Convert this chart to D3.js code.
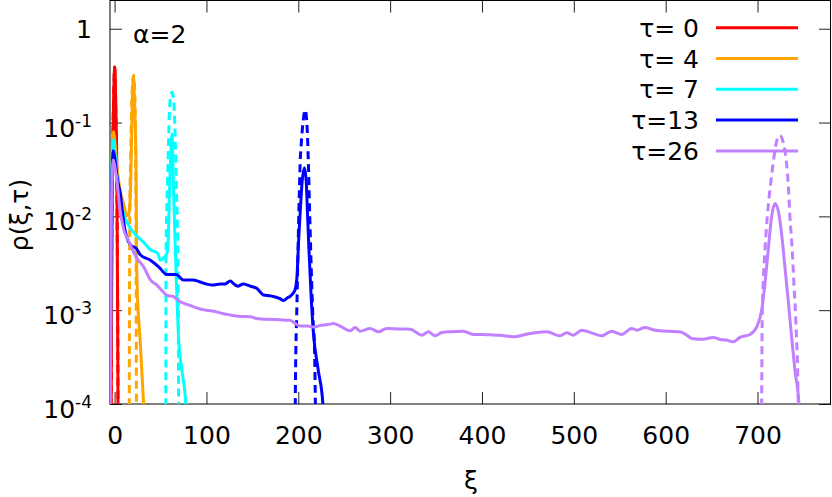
<!DOCTYPE html>
<html><head><meta charset="utf-8">
<script src="https://cdn.jsdelivr.net/npm/d3@7"></script>
<style>body{margin:0;background:#fff} svg{display:block} text{font-family:"DejaVu Sans",sans-serif;fill:#000}</style>
</head><body><svg id="c" width="832" height="497"></svg>
<script>
// ---- data (xi, rho) ----
const tauLabels = ["τ= 0", "τ= 4", "τ= 7", "τ=13", "τ=26"];
const xTicks = [0, 100, 200, 300, 400, 500, 600, 700];
const yTicks = [1e-4, 1e-3, 1e-2, 1e-1, 1];
const yTickExp = [-4, -3, -2, -1, 0];

const sim0 = [[-3.8,0.00005],[-3.3,0.001],[-2.4,0.02],[-1.2,0.15],[0.2,0.39],[1.5,0.12],[2.4,0.035],[2.8,0.008],[3.3,0.001],[3.7,0.0001],[3.9,0.00005]];
const th0 = [[-3.9,0.00005],[-3.6,0.0005],[-2.9,0.01],[-2.1,0.05],[-1,0.2],[0,0.39],[1,0.2],[2,0.05],[2.7,0.01],[3.5,0.0005],[3.8,0.00005]];

const sim4 = [[-4.7,0.00005],[-4,0.005],[-2.5,0.05],[-1.2,0.08],[0.5,0.06],[2,0.038],[4.4,0.024],[7,0.017],[9.8,0.0137],[12,0.011],[13.5,0.0102],[15,0.0102],[16.3,0.012],[17.6,0.024],[19.3,0.17],[20.5,0.31],[21.6,0.17],[22.5,0.09],[23.4,0.03],[23.8,0.005],[24.4,0.002],[28,0.00045],[31.6,0.0001],[32.2,0.00008]];
const th4 = [[15.9,0.00005],[16.2,0.001],[16.5,0.008],[17.6,0.05],[19.3,0.24],[20.7,0.32],[22,0.2],[23.1,0.03],[23.5,0.002],[23.8,0.00005]];

const sim7 = [[-4.7,0.00005],[-4,0.005],[-2.5,0.045],[-1.3,0.065],[0.5,0.045],[3,0.024],[6.2,0.0148],[10,0.0105],[17,0.0075],[24,0.0062],[31.6,0.0053],[39,0.0044],[44,0.0042],[47,0.0040],[50,0.0034],[53,0.0036],[57,0.0040],[58.5,0.006],[59.5,0.015],[60.6,0.033],[61.8,0.065],[62.5,0.076],[63.3,0.045],[64,0.022],[66.5,0.0035],[69.6,0.00052],[73.5,0.00022],[77.5,0.0001],[78,0.00008]];
const th7 = [[55.7,0.00005],[55.9,0.0005],[56,0.0037],[57.7,0.024],[58.8,0.065],[59.8,0.134],[61,0.19],[62.5,0.21],[63.8,0.19],[65,0.134],[67.1,0.024],[69.3,0.0021],[69.7,0.00005]];

const sim13 = [[-4.7,0.00005],[-4,0.004],[-2.5,0.035],[-1.3,0.05],[0.5,0.04],[3,0.025],[6.2,0.0175],[10,0.0085],[17,0.005],[24,0.0045],[28,0.0039],[39,0.0034],[48,0.0029],[57,0.0024],[61,0.0024],[67,0.0024],[75,0.0021],[85,0.0021],[93,0.0020],[100,0.0019],[107,0.00185],[115,0.0019],[120,0.0019],[126,0.00205],[130,0.0019],[134,0.0018],[140,0.0019],[148,0.0018],[155,0.0017],[159,0.00155],[162,0.00145],[170,0.00142],[175,0.00138],[180,0.00133],[184,0.00127],[188,0.00135],[191,0.0014],[194,0.0015],[196.5,0.00165],[198.6,0.0023],[200.4,0.0056],[202,0.0108],[204.3,0.024],[206.7,0.033],[208.6,0.024],[210,0.011],[211.5,0.0047],[214,0.0014],[216.5,0.00057],[221.7,0.00023],[226.8,0.0001],[227.3,0.00008]];
const th13 = [[196.5,0.00005],[197,0.0002],[198.5,0.0011],[200,0.006],[201.3,0.0204],[202,0.0365],[203.2,0.059],[205,0.097],[207.5,0.136],[209.4,0.097],[211,0.0365],[212.5,0.01],[214,0.003],[216,0.0008],[217.6,0.00041],[219,0.00005]];

const sim26 = [[-4.7,0.00005],[-4,0.003],[-2.5,0.03],[-1.3,0.04],[0.5,0.033],[2.6,0.024],[5,0.014],[10,0.0072],[15,0.0056],[20,0.0043],[25,0.0035],[31.6,0.0029],[39,0.0021],[46,0.00185],[52,0.0016],[57,0.00144],[64,0.0014],[70,0.00125],[75,0.00119],[85,0.0011],[93,0.00103],[100,0.001],[111,0.00096],[120,0.00091],[126,0.00089],[135,0.00086],[148,0.00085],[156,0.00081],[166,0.0008],[180,0.00079],[191,0.00078],[197,0.00072],[202,0.00068],[210,0.00068],[216.5,0.00066],[225,0.00069],[234.7,0.00071],[238.3,0.00072],[245,0.00068],[256.5,0.000603],[261.9,0.000654],[267.3,0.000598],[278.2,0.000639],[287.3,0.000588],[296.4,0.000639],[310,0.00063],[321.8,0.000628],[334.5,0.000542],[341.7,0.000588],[349,0.000533],[356.3,0.000579],[368,0.00059],[379.8,0.000598],[390.6,0.000551],[400,0.00055],[408.8,0.000546],[420,0.00054],[434.2,0.00052],[452.4,0.000565],[470.5,0.000588],[485,0.000533],[492.3,0.000574],[499.5,0.000542],[508.6,0.000613],[520,0.00057],[530.4,0.000533],[541.2,0.000598],[552.1,0.000551],[563,0.000639],[568.4,0.000613],[577.5,0.000654],[586,0.00062],[593.8,0.000603],[604.7,0.000595],[615.6,0.000588],[622,0.00055],[628.3,0.0005],[640.9,0.00049],[651.8,0.000513],[659.1,0.000488],[666,0.00048],[673.6,0.00046],[680.9,0.000513],[691.8,0.00055],[699,0.00066],[704.5,0.001],[708.1,0.00192],[711.6,0.00435],[715.3,0.00984],[718.9,0.0137],[722.5,0.0116],[726.2,0.00655],[729.8,0.00289],[733.4,0.00128],[737.1,0.00052],[740.7,0.00023],[745.1,0.0001],[745.5,0.00008]];
const th26 = [[704.3,0.00005],[704.5,0.0001],[705.1,0.00085],[706.2,0.00192],[708.1,0.00435],[710.6,0.00984],[714.3,0.0223],[717.9,0.0428],[721,0.064],[724.4,0.0728],[727.5,0.064],[729.8,0.0504],[733.4,0.0223],[735.3,0.00984],[737.8,0.00435],[739.6,0.00192],[741.5,0.00085],[744.3,0.0001],[744.6,0.00005]];

const simSeries = [sim0, sim4, sim7, sim13, sim26];
const thSeries = [th0, th4, th7, th13, th26];
const colors = ["#ff0000", "#ffa500", "#00ffff", "#0000ff", "#c080ff"];

// ---- layout ----
const L = 110, R = 831, T = 0.5, B = 404;
const svg = d3.select("#c");
const x = d3.scaleLinear().domain([-5, 780]).range([L, R]);
const y = d3.scaleLog().domain([1e-4, 2]).range([B, T]);

svg.append("defs").append("clipPath").attr("id", "clip")
  .append("rect").attr("x", L).attr("y", T).attr("width", R - L).attr("height", B - T);

// axes with inward ticks
const tl = 12;
const gx = svg.append("g").attr("transform", `translate(0,${B})`)
  .call(d3.axisBottom(x).tickValues(xTicks).tickSizeInner(-tl).tickSizeOuter(0).tickPadding(40).tickFormat(d3.format("d")));
const gxt = svg.append("g").attr("transform", `translate(0,${T})`)
  .call(d3.axisTop(x).tickValues(xTicks).tickSizeInner(-tl).tickSizeOuter(0).tickFormat(""));
const gy = svg.append("g").attr("transform", `translate(${L},0)`)
  .call(d3.axisLeft(y).tickValues(yTicks).tickSizeInner(-tl).tickSizeOuter(0).tickFormat(""));
const gyr = svg.append("g").attr("transform", `translate(${R},0)`)
  .call(d3.axisRight(y).tickValues(yTicks).tickSizeInner(-tl).tickSizeOuter(0).tickFormat(""));
[gx, gxt, gy, gyr].forEach(g => { g.select(".domain").remove(); g.selectAll("line").attr("stroke", "#222"); });
gx.selectAll("text").attr("font-size", 25).attr("font-family", "DejaVu Sans").attr("fill", "#000").attr("dy", "0");

// y tick labels with superscripts
yTicks.forEach((v, i) => {
  const e = yTickExp[i];
  const t = svg.append("text").attr("text-anchor", "end").attr("font-size", 25).attr("x", 92);
  if (e === 0) {
    t.attr("y", y(v) + 9).text("1");
  } else {
    t.attr("y", y(v) + 14);
    t.append("tspan").text("10");
    t.append("tspan").attr("font-size", 17).attr("dy", -10).text(String(e));
  }
});

// frame
svg.append("rect").attr("x", L).attr("y", T).attr("width", R - L - 0.5).attr("height", B - T)
  .attr("fill", "none").attr("stroke", "#000").attr("stroke-width", 1);

// curves
const line = d3.line().x(d => x(d[0])).y(d => y(d[1])).curve(d3.curveMonotoneX);
const plot = svg.append("g").attr("clip-path", "url(#clip)");
simSeries.forEach((s, i) => {
  plot.append("path").datum(s).attr("d", line).attr("fill", "none")
    .attr("stroke", colors[i]).attr("stroke-width", 3).attr("stroke-linejoin", "round");
  plot.append("path").datum(thSeries[i]).attr("d", line).attr("fill", "none")
    .attr("stroke", colors[i]).attr("stroke-width", 3).attr("stroke-dasharray", "8,5");
});

// legend
tauLabels.forEach((lab, i) => {
  const cy = 27.7 + i * 30.8;
  svg.append("text").attr("x", 699).attr("y", cy + 9).attr("text-anchor", "end").attr("font-size", 25).text(lab);
  svg.append("line").attr("x1", 716).attr("x2", 798).attr("y1", cy).attr("y2", cy)
    .attr("stroke", colors[i]).attr("stroke-width", 3);
});

// annotations
svg.append("text").attr("x", 133).attr("y", 43).attr("font-size", 25).text("α=2");
svg.append("text").attr("x", 471).attr("y", 489).attr("text-anchor", "middle").attr("font-size", 25).text("ξ");
svg.append("text").attr("transform", "translate(28,215) rotate(-90)").attr("text-anchor", "middle").attr("font-size", 25).text("ρ(ξ,τ)");
</script></body></html>
